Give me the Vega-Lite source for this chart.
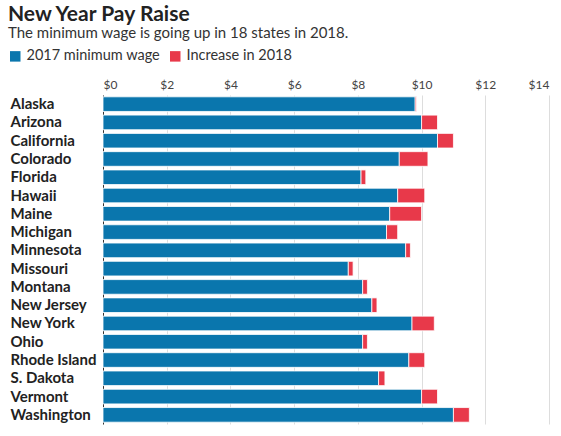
{
  "$schema": "https://vega.github.io/schema/vega-lite/v6.json",
  "width": 446,
  "height": 329,
  "autosize": {"type": "none"},
  "padding": {"left": 103, "top": 95, "right": 12, "bottom": 12},
  "background": "white",
  "title": {
    "text": "New Year Pay Raise",
    "subtitle": "The minimum wage is going up in 18 states in 2018.",
    "anchor": "start",
    "frame": "group",
    "dx": -95,
    "offset": 8,
    "font": "Lato",
    "fontSize": 21,
    "fontWeight": "bold",
    "color": "#222222",
    "subtitleFont": "Lato",
    "subtitleFontSize": 15,
    "subtitleColor": "#333333",
    "subtitlePadding": 1
  },
  "data": {
    "values": [
      {"state": "Alaska", "series": "2017 minimum wage", "value": 9.80},
      {"state": "Alaska", "series": "Increase in 2018", "value": 0.04},
      {"state": "Arizona", "series": "2017 minimum wage", "value": 10.00},
      {"state": "Arizona", "series": "Increase in 2018", "value": 0.50},
      {"state": "California", "series": "2017 minimum wage", "value": 10.50},
      {"state": "California", "series": "Increase in 2018", "value": 0.50},
      {"state": "Colorado", "series": "2017 minimum wage", "value": 9.30},
      {"state": "Colorado", "series": "Increase in 2018", "value": 0.90},
      {"state": "Florida", "series": "2017 minimum wage", "value": 8.10},
      {"state": "Florida", "series": "Increase in 2018", "value": 0.15},
      {"state": "Hawaii", "series": "2017 minimum wage", "value": 9.25},
      {"state": "Hawaii", "series": "Increase in 2018", "value": 0.85},
      {"state": "Maine", "series": "2017 minimum wage", "value": 9.00},
      {"state": "Maine", "series": "Increase in 2018", "value": 1.00},
      {"state": "Michigan", "series": "2017 minimum wage", "value": 8.90},
      {"state": "Michigan", "series": "Increase in 2018", "value": 0.35},
      {"state": "Minnesota", "series": "2017 minimum wage", "value": 9.50},
      {"state": "Minnesota", "series": "Increase in 2018", "value": 0.15},
      {"state": "Missouri", "series": "2017 minimum wage", "value": 7.70},
      {"state": "Missouri", "series": "Increase in 2018", "value": 0.15},
      {"state": "Montana", "series": "2017 minimum wage", "value": 8.15},
      {"state": "Montana", "series": "Increase in 2018", "value": 0.15},
      {"state": "New Jersey", "series": "2017 minimum wage", "value": 8.44},
      {"state": "New Jersey", "series": "Increase in 2018", "value": 0.16},
      {"state": "New York", "series": "2017 minimum wage", "value": 9.70},
      {"state": "New York", "series": "Increase in 2018", "value": 0.70},
      {"state": "Ohio", "series": "2017 minimum wage", "value": 8.15},
      {"state": "Ohio", "series": "Increase in 2018", "value": 0.15},
      {"state": "Rhode Island", "series": "2017 minimum wage", "value": 9.60},
      {"state": "Rhode Island", "series": "Increase in 2018", "value": 0.50},
      {"state": "S. Dakota", "series": "2017 minimum wage", "value": 8.65},
      {"state": "S. Dakota", "series": "Increase in 2018", "value": 0.20},
      {"state": "Vermont", "series": "2017 minimum wage", "value": 10.00},
      {"state": "Vermont", "series": "Increase in 2018", "value": 0.50},
      {"state": "Washington", "series": "2017 minimum wage", "value": 11.00},
      {"state": "Washington", "series": "Increase in 2018", "value": 0.50}
    ]
  },
  "mark": {"type": "bar", "stroke": "white", "strokeWidth": 0.8},
  "encoding": {
    "y": {
      "field": "state",
      "type": "nominal",
      "sort": null,
      "scale": {"paddingInner": 0.2, "paddingOuter": 0.1},
      "axis": {
        "title": null,
        "orient": "left",
        "ticks": false,
        "labelAlign": "left",
        "labelPadding": 93,
        "labelFont": "Lato",
        "labelFontSize": 15,
        "labelFontWeight": "bold",
        "labelColor": "#222222",
        "domain": true,
        "domainColor": "#333333",
        "domainWidth": 1,
        "grid": false
      }
    },
    "x": {
      "field": "value",
      "type": "quantitative",
      "stack": "zero",
      "scale": {"domain": [0, 14], "nice": false},
      "axis": {
        "orient": "top",
        "title": null,
        "values": [0, 2, 4, 6, 8, 10, 12, 14],
        "labelExpr": "'$' + datum.value",
        "ticks": false,
        "domain": false,
        "grid": true,
        "gridColor": "#dddddd",
        "gridWidth": 1,
        "labelFont": "Lato",
        "labelFontSize": 12,
        "labelColor": "#444444",
        "labelPadding": 4
      }
    },
    "color": {
      "field": "series",
      "type": "nominal",
      "scale": {"domain": ["2017 minimum wage", "Increase in 2018"], "range": ["#0a76ad", "#e8394a"]},
      "legend": {
        "title": null,
        "orient": "none",
        "direction": "horizontal",
        "legendX": -95,
        "legendY": -46,
        "symbolType": "square",
        "symbolSize": 110,
        "symbolStrokeWidth": 0,
        "labelFont": "Lato",
        "labelFontSize": 14.5,
        "labelColor": "#333333",
        "columnPadding": 7,
        "labelOffset": 4
      }
    },
    "order": {"field": "series", "sort": "ascending"}
  },
  "config": {"view": {"stroke": null}}
}
